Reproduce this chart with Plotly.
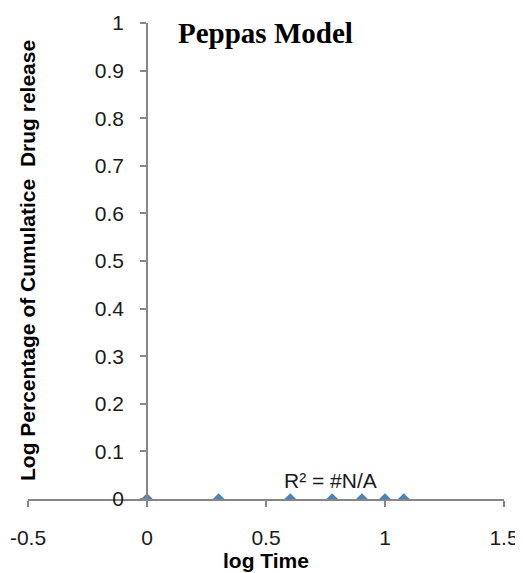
import plotly.graph_objects as go

# Data
log_time = [0, 0.301, 0.602, 0.778, 0.903, 1.0, 1.079]
log_release = [0, 0, 0, 0, 0, 0, 0]
x_ticks = [-0.5, 0, 0.5, 1, 1.5]
x_tick_text = ["-0.5", "0", "0.5", "1", "1.5"]
y_ticks = [0, 0.1, 0.2, 0.3, 0.4, 0.5, 0.6, 0.7, 0.8, 0.9, 1]
y_tick_text = ["0", "0.1", "0.2", "0.3", "0.4", "0.5", "0.6", "0.7", "0.8", "0.9", "1"]

sans = "Liberation Sans Narrow, Liberation Sans, Arial"
tick_font = dict(family=sans, size=21, color="#1a1a1a")
axis_col = "#868686"

fig = go.Figure()
fig.add_trace(go.Scatter(
    x=log_time, y=log_release, mode="markers",
    marker=dict(symbol="diamond", size=9, color="#4F81BD"),
    showlegend=False,
))

fig.update_layout(
    width=523, height=573,
    margin=dict(l=20, r=27, t=15, b=82),
    paper_bgcolor="white", plot_bgcolor="white",
    xaxis=dict(
        range=[-0.5, 1.5], tickvals=x_ticks, ticktext=x_tick_text,
        showgrid=False, zeroline=False, showline=True, linecolor=axis_col, linewidth=1.5,
        ticks="outside", ticklen=6, tickcolor=axis_col, tickwidth=1.5,
        tickfont=tick_font, ticklabelstandoff=13, automargin=False,
    ),
    yaxis=dict(
        range=[0, 1], tickvals=y_ticks, ticktext=y_tick_text,
        showgrid=False, zeroline=False, showline=True, linecolor=axis_col, linewidth=1.5,
        ticks="outside", ticklen=6, tickcolor=axis_col, tickwidth=1.5,
        tickfont=tick_font, anchor="free", position=0.25, ticklabelstandoff=12,
        automargin=False,
    ),
    annotations=[
        dict(text="<b>Peppas Model</b>", x=(265 - 28) / 476, y=1 - (33 - 23) / 476,
             xref="paper", yref="paper", showarrow=False, xanchor="center", yanchor="middle",
             font=dict(family="Liberation Serif, Times New Roman", size=29, color="#000")),
        dict(text="<b>log Time</b>", x=0.5, y=-(560 - 499) / 476, xref="paper", yref="paper",
             showarrow=False, xanchor="center", yanchor="middle",
             font=dict(family=sans, size=21, color="#000")),
        dict(text="<b>Log Percentage of Cumulatice  Drug release</b>", x=-1 / 476, y=(499 - 261) / 476,
             xref="paper", yref="paper", xanchor="center", yanchor="middle",
             showarrow=False, textangle=-90,
             font=dict(family=sans, size=21, color="#000")),
        dict(text="R² = #N/A", x=0.77, y=(499 - 480) / 476, xref="x", yref="paper",
             showarrow=False, xanchor="center", yanchor="middle", font=tick_font),
    ],
)

fig.write_html("out.html")
